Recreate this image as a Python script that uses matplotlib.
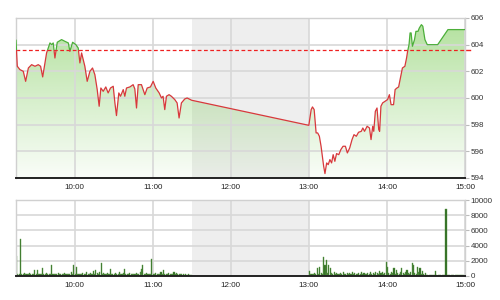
import numpy as np
import matplotlib.pyplot as plt
from matplotlib.patches import Polygon, Rectangle
import matplotlib.transforms as mtransforms

# previous close (reference line)
ref = 603.6

# morning session: minutes after 9:15 and price
am_min = [0, 1, 3, 5.6, 7.4, 9.5, 12, 14.6, 17.1, 18.9, 20.5, 22.3, 23.5, 26.1,
          27.4, 28.6, 29.9, 31.7, 35, 37.6, 40.2, 41.4, 43.5, 46, 47.8, 49.1,
          50.4, 52.9, 54.7, 56.8, 58.8, 60.6, 62.4, 63.9, 65.2, 67, 69, 70.8,
          72.6, 74.7, 76, 77.2, 79, 80.3, 82.4, 83.6, 84.9, 87.5, 90, 91.3, 92.6,
          93.9, 96.4, 99, 100.8, 103.3, 105.4, 107.4, 110, 111.8, 113, 114.3,
          115.6, 117.6, 119.4, 122, 123.8, 125.3, 127.1, 129.7, 131.5, 135]
am_price = [604.33, 602.38, 602.13, 602.0, 601.25, 602.25, 602.5, 602.38, 602.5,
            602.38, 601.58, 602.63, 603.38, 604.13, 604.0, 604.13, 603.0, 604.18,
            604.38, 604.25, 604.13, 603.5, 604.18, 604.0, 603.75, 602.63, 603.38,
            602.38, 601.25, 602.0, 602.25, 601.75, 600.63, 599.38, 600.75, 600.5,
            600.83, 600.38, 600.75, 600.88, 599.63, 598.68, 600.38, 600.13, 600.63,
            600.13, 600.75, 600.83, 601.0, 600.68, 599.25, 601.0, 601.0, 600.25,
            600.75, 600.83, 601.25, 600.75, 600.38, 600.0, 600.13, 599.13, 600.13,
            600.25, 600.13, 599.88, 599.63, 598.5, 599.63, 599.93, 600.0, 599.83]

# afternoon session: minutes after 13:00 and price
pm_min = [0, 1.8, 2.8, 4.1, 5.6, 6.8, 8.1, 9.4, 10.4, 11.4, 12.4, 13.7, 14.9, 16.2,
          17.5, 18.7, 20, 21.3, 23, 24.6, 26.3, 28.1, 29.6, 31.4, 33.2, 34.7, 36.5,
          38.2, 40.3, 41.5, 42.8, 44.8, 46.6, 47.8, 49.1, 49.9, 51.1, 52.4, 53.7,
          54.4, 55.4, 56.7, 58.5, 60.5, 61.9, 63.2, 65.1, 66.3, 67.7, 69, 70.6,
          71.9, 73.8, 75.1, 75.9, 77, 77.8, 78.6, 79.6, 81.2, 82.3, 83.9, 84.9,
          86.5, 87.6, 89.2, 91, 93.7, 99, 106.9, 120]
pm_price = [597.95, 599.13, 599.33, 599.13, 597.38, 597.38, 597.13, 596.38, 595.63,
            594.88, 594.33, 595.13, 595.0, 595.38, 595.13, 595.75, 595.25, 595.83,
            595.75, 596.13, 596.38, 596.38, 595.88, 596.25, 596.88, 597.25, 597.13,
            597.43, 597.5, 597.75, 597.5, 597.88, 597.75, 596.88, 597.88, 597.5,
            599.0, 599.25, 597.63, 597.5, 599.38, 599.63, 599.75, 599.88, 600.25,
            599.5, 599.5, 600.63, 600.75, 600.83, 601.63, 602.25, 602.38, 603.0,
            603.5, 604.0, 604.88, 604.88, 603.88, 604.38, 605.0, 605.0, 605.25,
            605.5, 605.38, 604.38, 604.0, 604.0, 604.0, 605.13, 605.13]

# volume per minute, in hundreds (morning from 9:15, afternoon from 13:00)
am_vol = [26, 3, 2, 49, 3, 2, 4, 3, 2, 3, 4, 2, 3, 3, 8,
          3, 8, 2, 3, 2, 10, 3, 2, 4, 2, 3, 2, 14, 3, 2,
          3, 2, 4, 3, 2, 3, 2, 4, 2, 3, 2, 3, 5, 3, 14,
          3, 12, 2, 3, 2, 3, 4, 2, 3, 5, 3, 2, 4, 3, 6,
          3, 8, 4, 3, 5, 17, 3, 4, 2, 3, 4, 3, 9, 3, 2,
          3, 4, 2, 3, 5, 3, 2, 4, 9, 3, 2, 3, 4, 2, 3,
          2, 3, 4, 3, 2, 5, 9, 14, 3, 2, 4, 3, 2, 3, 22,
          3, 2, 4, 3, 2, 3, 5, 2, 8, 3, 2, 3, 4, 2, 3,
          2, 5, 3, 4, 2, 3, 2, 3, 2, 1, 2, 1, 2, 1, 1]
pm_vol = [7, 2, 3, 2, 4, 3, 10, 2, 12, 4, 3, 25, 14, 21, 4,
          15, 10, 4, 3, 5, 3, 4, 3, 2, 4, 3, 5, 3, 2, 4,
          3, 4, 2, 5, 3, 4, 3, 2, 4, 3, 5, 3, 4, 2, 3,
          4, 3, 5, 3, 4, 2, 5, 4, 3, 6, 4, 5, 3, 4, 19,
          12, 4, 3, 5, 4, 10, 3, 8, 4, 3, 5, 10, 4, 3, 5,
          8, 4, 3, 5, 17, 14, 4, 3, 12, 5, 10, 3, 7, 2, 4,
          1, 1, 1, 1, 1, 1, 1, 6, 1, 1, 1, 1, 1, 1, 1,
          88, 1, 1, 1, 1, 1, 1, 1, 1, 1, 1, 1, 1, 1, 0]

hours = [10, 11, 12, 13, 14, 15]
hour_labels = ['10:00', '11:00', '12:00', '13:00', '14:00', '15:00']
price_ticks = [594, 596, 598, 600, 602, 604, 606]
vol_ticks = [0, 2000, 4000, 6000, 8000, 10000]

t = np.concatenate([9.25 + np.array(am_min) / 60, 13 + np.array(pm_min) / 60])
p = np.concatenate([am_price, pm_price])

plt.rcParams['font.family'] = ['Liberation Sans', 'DejaVu Sans']
fig = plt.figure(figsize=(5, 3), dpi=100)
ax1 = fig.add_axes([0.032, 0.4067, 0.898, 0.5333])
ax2 = fig.add_axes([0.032, 0.08, 0.898, 0.2533])

for ax in (ax1, ax2):
    ax.set_xlim(9.25, 15)
    ax.axvspan(11.5, 13, color='#eeeeee', lw=0, zorder=0.2)
    ax.set_xticks(hours)
    ax.set_xticklabels(hour_labels)
    ax.grid(color='#d8d8d8', lw=1.2)
    ax.set_axisbelow('line')
    ax.yaxis.tick_right()
    ax.tick_params(axis='x', length=0, pad=4, labelsize=5.8, labelcolor='#222')
    ax.tick_params(axis='y', length=3, width=0.8, color='#bbbbbb', pad=1,
                   labelsize=5.8, labelcolor='#333')
    for s in ('left', 'top', 'right'):
        ax.spines[s].set_color('#d0d0d0')
        ax.spines[s].set_linewidth(1)
    ax.spines['bottom'].set_color('#222')
    ax.spines['bottom'].set_linewidth(1.4)

# price panel
ax1.set_ylim(594, 606)
ax1.set_yticks(price_ticks)

poly = Polygon(np.column_stack([np.r_[t[0], t, t[-1]], np.r_[594, p, 594]]),
               closed=True, transform=ax1.transData)
grad = np.zeros((200, 2, 4))
grad[..., 0] = 0.50
grad[..., 1] = 0.80
grad[..., 2] = 0.36
grad[..., 3] = np.linspace(0.6, 0.04, 200)[:, None]
im = ax1.imshow(grad, extent=[9.25, 15, 594, 606], origin='upper',
                aspect='auto', zorder=1, interpolation='bilinear')
im.set_clip_path(poly)
ax1.set_xlim(9.25, 15)
ax1.set_ylim(594, 606)

ax1.axhline(ref, color='#ee2020', lw=0.9, ls=(0, (3, 2)), zorder=2)
trans = mtransforms.blended_transform_factory(ax1.transAxes, ax1.transData)
ax1.plot([1.0, 1.012], [ref, ref], color='#ee2020', lw=1, transform=trans,
         clip_on=False)

low, = ax1.plot(t, p, color='#d8383c', lw=0.9, zorder=3)
low.set_clip_path(Rectangle((9.25, 594), 5.75, ref - 594, transform=ax1.transData))
high, = ax1.plot(t, p, color='#4caf3a', lw=0.9, zorder=3)
high.set_clip_path(Rectangle((9.25, ref), 5.75, 606 - ref, transform=ax1.transData))

# volume panel
am_t = 9.25 + np.arange(len(am_vol)) / 60
pm_t = 13 + np.arange(len(pm_vol)) / 60
ax2.bar(am_t, np.array(am_vol) * 100, width=0.85 / 60, align='edge',
        color='#2e6b20', edgecolor='#5f9a4c', linewidth=0.3, zorder=2)
ax2.bar(pm_t, np.array(pm_vol) * 100, width=0.85 / 60, align='edge',
        color='#2e6b20', edgecolor='#5f9a4c', linewidth=0.3, zorder=2)
ax2.set_ylim(0, 10000)
ax2.set_yticks(vol_ticks)

plt.savefig('out.png', dpi=100)
